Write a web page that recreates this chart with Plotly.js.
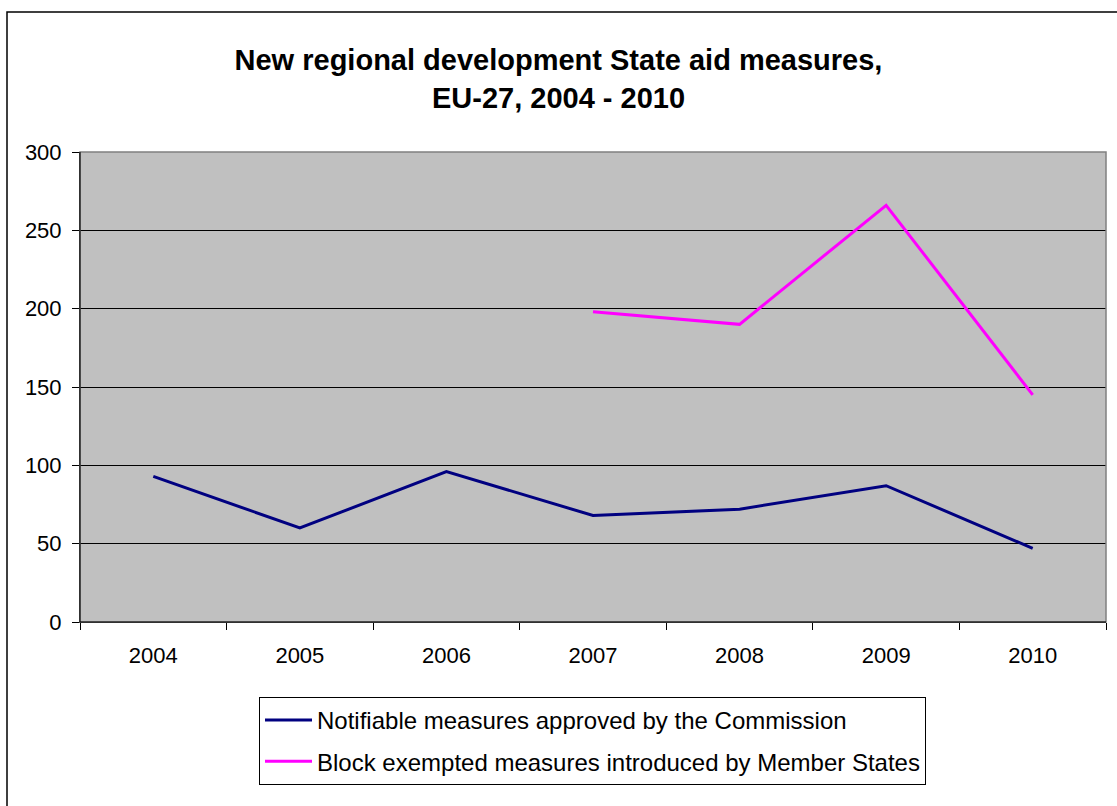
<!DOCTYPE html>
<html>
<head>
<meta charset="utf-8">
<script src="https://cdn.plot.ly/plotly-3.0.1.min.js"></script>
<style>html,body{margin:0;padding:0;background:#fff;}#chart{width:1117px;height:806px;}</style>
</head>
<body>
<div id="chart"></div>
<script>
const years = ["2004", "2005", "2006", "2007", "2008", "2009", "2010"];
const notifiable = [93, 60, 96, 68, 72, 87, 47];
const blockExempted = [null, null, null, 198, 190, 266, 145];
const seriesNames = ["Notifiable measures approved by the Commission", "Block exempted measures introduced by Member States"];
const yTicks = [0, 50, 100, 150, 200, 250, 300];

const W = 1117, H = 806;
const L = 80, R = 11, T = 152, B = 184;
const pw = W - L - R, ph = H - T - B;
const px = v => (v - L) / pw;
const py = v => (H - B - v) / ph;

const traces = [
  {x: years, y: notifiable, type: "scatter", mode: "lines", name: seriesNames[0],
   line: {color: "#000080", width: 3}, legendgroup: "a", hoverinfo: "x+y"},
  {x: years, y: blockExempted, type: "scatter", mode: "lines", name: seriesNames[1],
   line: {color: "#FF00FF", width: 3}, legendgroup: "b", connectgaps: false, hoverinfo: "x+y"}
];

const layout = {
  width: W, height: H,
  margin: {l: L, r: R, t: T, b: B, pad: 0},
  paper_bgcolor: "#ffffff",
  plot_bgcolor: "#C0C0C0",
  font: {family: "Liberation Sans, Arial, sans-serif", color: "#000000", size: 22},
  title: {
    text: "<b>New regional development State aid measures,<br>EU-27, 2004 - 2010</b>",
    font: {family: "Liberation Sans, Arial, sans-serif", size: 29, color: "#000000"},
    x: 0.5, xref: "container", xanchor: "center",
    y: 1 - 70 / H, yref: "container", yanchor: "middle"
  },
  xaxis: {
    type: "category",
    range: [-0.5, 6.5],
    tickvals: years, ticktext: years,
    tickson: "boundaries",
    ticks: "outside", ticklen: 7, tickcolor: "#000000", tickwidth: 1,
    showgrid: false, zeroline: false,
    showline: true, linecolor: "#000000", linewidth: 1,
    tickfont: {size: 22},
    ticklabelstandoff: 14,
    fixedrange: true
  },
  yaxis: {
    range: [0, 300],
    tickvals: yTicks,
    ticks: "outside", ticklen: 7, tickcolor: "#000000", tickwidth: 1,
    showgrid: true, gridcolor: "#000000", gridwidth: 1,
    zeroline: false,
    showline: true, linecolor: "#000000", linewidth: 1,
    tickfont: {size: 22},
    ticklabelstandoff: 6,
    fixedrange: true
  },
  showlegend: true,
  legend: {
    x: px(259), y: py(697), xanchor: "left", yanchor: "top",
    xref: "paper", yref: "paper",
    orientation: "v",
    bgcolor: "#ffffff", bordercolor: "#000000", borderwidth: 1,
    font: {size: 24, color: "#000000"},
    itemwidth: 47,
    tracegroupgap: 7,
    traceorder: "grouped"
  },
  shapes: [
    {type: "rect", xref: "paper", yref: "paper", x0: 0, x1: 1, y0: 0, y1: 1,
     line: {color: "#808080", width: 1.5}, fillcolor: "rgba(0,0,0,0)", layer: "above"},
    {type: "line", xref: "paper", yref: "paper", x0: 0, x1: 0, y0: 0, y1: 1,
     line: {color: "#000000", width: 1}, layer: "above"},
    {type: "line", xref: "paper", yref: "paper", x0: 0, x1: 1, y0: 0, y1: 0,
     line: {color: "#000000", width: 1}, layer: "above"},
    {type: "rect", xref: "paper", yref: "paper", x0: px(7), x1: px(1140), y0: py(830), y1: py(12),
     line: {color: "#000000", width: 1.5}, fillcolor: "rgba(0,0,0,0)", layer: "below"}
  ]
};

Plotly.newPlot("chart", traces, layout, {displayModeBar: false, staticPlot: true});
</script>
</body>
</html>
